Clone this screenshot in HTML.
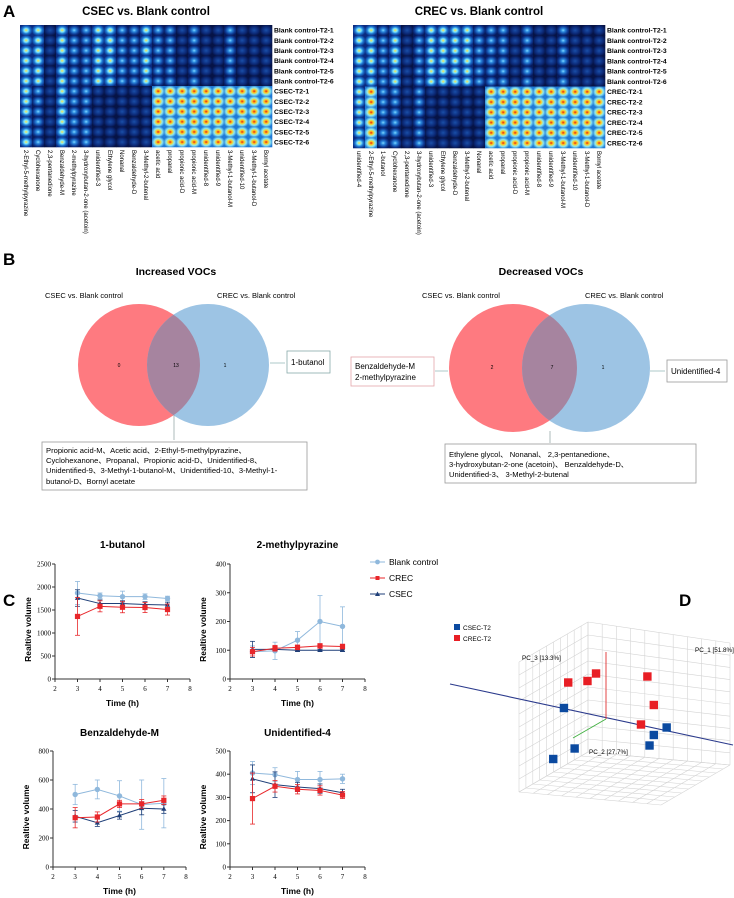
<!DOCTYPE html>
<html><head><meta charset="utf-8"><style>
html,body{margin:0;padding:0;background:#fff}
svg{display:block;font-family:"Liberation Sans",sans-serif}
</style></head><body>
<svg id="fig" width="734" height="898" viewBox="0 0 734 898" xmlns="http://www.w3.org/2000/svg">
<defs>
<radialGradient id="g0" cx="50%" cy="50%" r="55%"><stop offset="0" stop-color="#1a4fa8"/><stop offset="0.6" stop-color="#0c2a78"/><stop offset="1" stop-color="#061346"/></radialGradient>
<radialGradient id="g1" cx="50%" cy="50%" r="55%"><stop offset="0" stop-color="#7fd8ff"/><stop offset="0.3" stop-color="#2a86dc"/><stop offset="0.7" stop-color="#0e3a94"/><stop offset="1" stop-color="#071a5c"/></radialGradient>
<radialGradient id="g2" cx="50%" cy="50%" r="55%"><stop offset="0" stop-color="#ffe24a"/><stop offset="0.3" stop-color="#7ee8ff"/><stop offset="0.6" stop-color="#1e78d4"/><stop offset="1" stop-color="#0a2a80"/></radialGradient>
<radialGradient id="g3" cx="50%" cy="50%" r="55%"><stop offset="0" stop-color="#e82010"/><stop offset="0.3" stop-color="#ffd020"/><stop offset="0.6" stop-color="#8fe8f0"/><stop offset="1" stop-color="#1f7ad6"/></radialGradient>
<clipPath id="clipL"><circle cx="139" cy="365" r="61"/></clipPath>
<clipPath id="clipR"><circle cx="513" cy="368" r="64"/></clipPath>
</defs>

<!-- Panel A -->
<text x="3" y="17" font-size="17" font-weight="bold">A</text>
<text x="146" y="15" font-size="11.5" font-weight="bold" text-anchor="middle">CSEC vs. Blank control</text>
<text x="479" y="15" font-size="11.5" font-weight="bold" text-anchor="middle">CREC vs. Blank control</text>
<g id="hmL"></g>
<g id="hmR"></g>

<!-- Panel B -->
<text x="3" y="265" font-size="17" font-weight="bold">B</text>
<text x="176" y="275" font-size="10.5" font-weight="bold" text-anchor="middle">Increased VOCs</text>
<text x="541" y="275" font-size="10.5" font-weight="bold" text-anchor="middle">Decreased VOCs</text>
<g font-size="7.5">
<text x="45" y="298">CSEC vs. Blank control</text>
<text x="217" y="298">CREC vs. Blank control</text>
<circle cx="139" cy="365" r="61" fill="#fe7a80"/>
<circle cx="208" cy="365" r="61" fill="#9dc4e4"/>
<circle cx="208" cy="365" r="61" fill="#a6849f" clip-path="url(#clipL)"/>
<text x="119" y="367" font-size="5" text-anchor="middle">0</text>
<text x="176" y="367" font-size="5" text-anchor="middle">13</text>
<text x="225" y="367" font-size="5" text-anchor="middle">1</text>
<line x1="270" y1="363" x2="285" y2="363" stroke="#9bb" stroke-width="0.8"/>
<rect x="287" y="351" width="43" height="22" fill="#fff" stroke="#8aa" stroke-width="0.8"/>
<text x="291" y="365" font-size="8">1-butanol</text>
<line x1="174" y1="415" x2="174" y2="440" stroke="#9aa" stroke-width="0.8"/>
<rect x="42" y="442" width="265" height="48" fill="#fff" stroke="#999" stroke-width="0.8"/>
<g font-size="7.6" font-family="'Liberation Sans','Noto Sans CJK SC',sans-serif">
<text x="46" y="453">Propionic acid-M、Acetic acid、2-Ethyl-5-methylpyrazine、</text>
<text x="46" y="463">Cyclohexanone、Propanal、Propionic acid-D、Unidentified-8、</text>
<text x="46" y="473">Unidentified-9、3-Methyl-1-butanol-M、Unidentified-10、3-Methyl-1-</text>
<text x="46" y="484">butanol-D、Bornyl acetate</text>
</g>
</g>
<g font-size="7.5">
<text x="422" y="298">CSEC vs. Blank control</text>
<text x="585" y="298">CREC vs. Blank control</text>
<circle cx="513" cy="368" r="64" fill="#fe7a80"/>
<circle cx="586" cy="368" r="64" fill="#9dc4e4"/>
<circle cx="586" cy="368" r="64" fill="#a6849f" clip-path="url(#clipR)"/>
<text x="492" y="369" font-size="5" text-anchor="middle">2</text>
<text x="552" y="369" font-size="5" text-anchor="middle">7</text>
<text x="603" y="369" font-size="5" text-anchor="middle">1</text>
<line x1="448" y1="371" x2="435" y2="371" stroke="#9bb" stroke-width="0.8"/>
<rect x="351" y="357" width="83" height="29" fill="#fff" stroke="#e3a5aa" stroke-width="0.8"/>
<text x="355" y="369" font-size="8">Benzaldehyde-M</text>
<text x="355" y="380" font-size="8">2-methylpyrazine</text>
<line x1="650" y1="371" x2="665" y2="371" stroke="#9bb" stroke-width="0.8"/>
<rect x="667" y="360" width="60" height="22" fill="#fff" stroke="#999" stroke-width="0.8"/>
<text x="671" y="374" font-size="8">Unidentified-4</text>
<line x1="550" y1="431" x2="550" y2="443" stroke="#9aa" stroke-width="0.8"/>
<rect x="445" y="444" width="251" height="39" fill="#fff" stroke="#999" stroke-width="0.8"/>
<g font-size="7.6" font-family="'Liberation Sans','Noto Sans CJK SC',sans-serif">
<text x="449" y="457">Ethylene glycol、 Nonanal、 2,3-pentanedione、</text>
<text x="449" y="467">3-hydroxybutan-2-one (acetoin)、 Benzaldehyde-D、</text>
<text x="449" y="477">Unidentified-3、 3-Methyl-2-butenal</text>
</g>
</g>

<!-- Panel C -->
<text x="3" y="606" font-size="17" font-weight="bold">C</text>
<g id="charts"></g>
<g font-size="8.5">
<line x1="370" y1="562" x2="385" y2="562" stroke="#8fb8dc"/><circle cx="377.5" cy="562" r="2.4" fill="#8fb8dc"/>
<text x="389" y="565">Blank control</text>
<line x1="370" y1="578" x2="385" y2="578" stroke="#e8262a"/><rect x="375.5" y="576" width="4" height="4" fill="#e8262a"/>
<text x="389" y="581">CREC</text>
<line x1="370" y1="594" x2="385" y2="594" stroke="#1f3f78"/><path d="M377.5 591.5 L380 596 L375 596Z" fill="#1f3f78"/>
<text x="389" y="597">CSEC</text>
</g>

<!-- Panel D -->
<text x="679" y="606" font-size="17" font-weight="bold">D</text>
<g id="pca"></g>
</svg>
<script>
// ---------- Heatmap data ----------
const hmLeftCols = ["2-Ethyl-5-methylpyrazine","Cyclohexanone","2,3-pentanedione","Benzaldehyde-M","2-methylpyrazine","3-hydroxybutan-2-one (acetoin)","unidentified-3","Ethylene glycol","Nonanal","Benzaldehyde-D","3-Methyl-2-butenal","acetic acid","propanal","propionic acid-D","propionic acid-M","unidentified-8","unidentified-9","3-Methyl-1-butanol-M","unidentified-10","3-Methyl-1-butanol-D","Bornyl acetate"];
const hmLeftBlank = [2,2,0,2,1,1,2,2,1,1,2,1,1,0,1,0,0,1,0,0,0];
const hmLeftTreat = [2,1,0,2,1,1,0,0,0,0,0,3,3,3,3,3,3,3,3,3,3];
const hmLeftRows = ["Blank control-T2-1","Blank control-T2-2","Blank control-T2-3","Blank control-T2-4","Blank control-T2-5","Blank control-T2-6","CSEC-T2-1","CSEC-T2-2","CSEC-T2-3","CSEC-T2-4","CSEC-T2-5","CSEC-T2-6"];
const hmRightCols = ["unidentified-4","2-Ethyl-5-methylpyrazine","1-butanol","Cyclohexanone","2,3-pentanedione","3-hydroxybutan-2-one (acetoin)","unidentified-3","Ethylene glycol","Benzaldehyde-D","3-Methyl-2-butenal","Nonanal","acetic acid","propanal","propionic acid-D","propionic acid-M","unidentified-8","unidentified-9","3-Methyl-1-butanol-M","unidentified-10","3-Methyl-1-butanol-D","Bornyl acetate"];
const hmRightBlank = [2,2,1,2,0,1,2,2,2,2,1,1,1,0,1,0,0,1,0,0,0];
const hmRightTreat = [2,3,1,1,0,1,0,0,0,0,0,3,3,3,3,3,3,3,3,3,3];
const hmRightRows = ["Blank control-T2-1","Blank control-T2-2","Blank control-T2-3","Blank control-T2-4","Blank control-T2-5","Blank control-T2-6","CREC-T2-1","CREC-T2-2","CREC-T2-3","CREC-T2-4","CREC-T2-5","CREC-T2-6"];

// ---------- Line chart data ----------
const timeH = [3,4,5,6,7];
const butBlank=[1870,1810,1790,1790,1750], butBlankErr=[250,60,120,60,50];
const butCrec=[1360,1580,1560,1555,1510], butCrecErr=[410,120,120,110,120];
const butCsec=[1760,1640,1640,1620,1610], butCsecErr=[180,80,60,60,60];
const mpBlank=[95,98,135,200,183], mpBlankErr=[20,30,30,90,68];
const mpCrec=[95,107,110,115,113], mpCrecErr=[15,10,8,8,8];
const mpCsec=[103,103,100,100,100], mpCsecErr=[28,5,3,3,3];
const bzBlank=[500,535,490,430,440], bzBlankErr=[70,65,105,170,170];
const bzCrec=[340,345,435,435,460], bzCrecErr=[70,35,25,30,30];
const bzCsec=[350,305,355,405,400], bzCsecErr=[40,25,25,45,30];
const u4Blank=[405,398,377,377,380], u4BlankErr=[50,30,35,35,20];
const u4Crec=[295,348,335,330,310], u4CrecErr=[110,25,20,20,15];
const u4Csec=[380,355,345,338,320], u4CsecErr=[60,55,20,20,15];
const butTicks=[0,500,1000,1500,2000,2500];
const mpTicks=[0,100,200,300,400];
const bzTicks=[0,200,400,600,800];
const u4Ticks=[0,100,200,300,400,500];
const xTicks=[2,3,4,5,6,7,8];

// ---------- PCA data (projected coordinates, scene units 0..10) ----------
const pcaCsecX=[2.1,1.6,2.6,6.1,6.3,6.9];
const pcaCsecY=[5.6,2.2,2.9,3.1,3.8,4.3];
const pcaCrecX=[2.3,3.2,3.6,6.0,6.3,5.7];
const pcaCrecY=[7.3,7.4,7.9,7.7,5.8,4.5];

const NS="http://www.w3.org/2000/svg";
function mk(tag,attrs,parent){const e=document.createElementNS(NS,tag);for(const k in attrs)e.setAttribute(k,attrs[k]);parent.appendChild(e);return e;}

function heatmap(g,x0,x1,y0,y1,cols,blank,treat,rows){
  const cw=(x1-x0)/cols.length, rh=(y1-y0)/rows.length;
  mk('rect',{x:x0,y:y0,width:x1-x0,height:y1-y0,fill:'#061346'},g);
  cols.forEach((c,i)=>{
    rows.forEach((r,j)=>{
      const lv = j<6?blank[i]:treat[i];
      const cell=mk('rect',{x:x0+i*cw,y:y0+j*rh,width:cw+0.3,height:rh+0.3,fill:'url(#g'+lv+')'},g);
      
      
    });
    const t=mk('text',{x:0,y:0,'font-size':6,transform:`translate(${x0+i*cw+cw/2-2},${y1+3}) rotate(90)`},g);
    
    
    t.textContent=c;
  });
  rows.forEach((r,j)=>{
    const t=mk('text',{x:x1+2,y:y0+j*rh+rh/2+2.5,'font-size':6.8,'font-weight':'bold'},g);
    
    
    t.textContent=r;
  });
}
heatmap(document.getElementById('hmL'),20,272,25,147,hmLeftCols,hmLeftBlank,hmLeftTreat,hmLeftRows);
heatmap(document.getElementById('hmR'),353,605,25,148,hmRightCols,hmRightBlank,hmRightTreat,hmRightRows);

function chart(g,title,ax,ay0,ay1,xr,ticks,series,titleY){
  const ymax=ticks[ticks.length-1];
  const sx=v=>ax+(v-2)/6*(xr-ax);
  const sy=v=>ay0-(v/ymax)*(ay0-ay1);
  const tt=mk('text',{x:(ax+xr)/2,y:titleY,'font-size':10,'font-weight':'bold','text-anchor':'middle'},g);
  tt.textContent=title;
  mk('line',{x1:ax,y1:ay1,x2:ax,y2:ay0,stroke:'#333','stroke-width':1},g);
  mk('line',{x1:ax,y1:ay0,x2:xr,y2:ay0,stroke:'#333','stroke-width':1},g);
  ticks.forEach(v=>{mk('line',{x1:ax-3,y1:sy(v),x2:ax,y2:sy(v),stroke:'#333'},g);
    const t=mk('text',{x:ax-4,y:sy(v)+2.5,'font-size':7,'text-anchor':'end','font-family':'Liberation Serif'},g);
    t.textContent=v;});
  xTicks.forEach(v=>{mk('line',{x1:sx(v),y1:ay0,x2:sx(v),y2:ay0+3,stroke:'#333'},g);
    const t=mk('text',{x:sx(v),y:ay0+12,'font-size':7,'text-anchor':'middle','font-family':'Liberation Serif'},g);
    t.textContent=v;});
  const xt=mk('text',{x:(ax+xr)/2,y:ay0+27,'font-size':8.5,'font-weight':'bold','text-anchor':'middle'},g);
  xt.textContent='Time (h)';
  const yt=mk('text',{x:0,y:0,'font-size':8.5,'font-weight':'bold','text-anchor':'middle',transform:`translate(${ax-24},${(ay0+ay1)/2+8}) rotate(-90)`},g);
  yt.textContent='Realtive volume';
  series.forEach(s=>{
    const sg=mk('g',{},g);
    
    s.v.forEach((v,i)=>{const x=sx(timeH[i]);
      mk('line',{x1:x,y1:sy(v-s.e[i]),x2:x,y2:sy(v+s.e[i]),stroke:s.c,'stroke-width':0.8},sg);
      mk('line',{x1:x-2.5,y1:sy(v+s.e[i]),x2:x+2.5,y2:sy(v+s.e[i]),stroke:s.c,'stroke-width':0.8},sg);
      mk('line',{x1:x-2.5,y1:sy(v-s.e[i]),x2:x+2.5,y2:sy(v-s.e[i]),stroke:s.c,'stroke-width':0.8},sg);});
    mk('polyline',{points:s.v.map((v,i)=>sx(timeH[i])+','+sy(v)).join(' '),fill:'none',stroke:s.c,'stroke-width':1},sg);
    s.v.forEach((v,i)=>{const x=sx(timeH[i]),y=sy(v);let m;
      if(s.m==='c')m=mk('circle',{cx:x,cy:y,r:2.7,fill:s.c},sg);
      else if(s.m==='s')m=mk('rect',{x:x-2.6,y:y-2.6,width:5.2,height:5.2,fill:s.c},sg);
      else m=mk('path',{d:`M${x} ${y-2.8}L${x+2.6} ${y+1.8}L${x-2.6} ${y+1.8}Z`,fill:s.c},sg);
      });
  });
}
const CB='#8fb8dc',CR='#e8262a',CS='#1f3f78';
const ch=document.getElementById('charts');
function sub(n){const g=mk('g',{},ch);return g;}
chart(sub('chart-1-butanol'),'1-butanol',55,679,564,190,butTicks,[
 {name:'blank',v:butBlank,e:butBlankErr,c:CB,m:'c'},{name:'csec',v:butCsec,e:butCsecErr,c:CS,m:'t'},{name:'crec',v:butCrec,e:butCrecErr,c:CR,m:'s'}],548);
chart(sub('chart-2-methylpyrazine'),'2-methylpyrazine',230,679,564,365,mpTicks,[
 {name:'blank',v:mpBlank,e:mpBlankErr,c:CB,m:'c'},{name:'csec',v:mpCsec,e:mpCsecErr,c:CS,m:'t'},{name:'crec',v:mpCrec,e:mpCrecErr,c:CR,m:'s'}],548);
chart(sub('chart-benzaldehyde-m'),'Benzaldehyde-M',53,867,751,186,bzTicks,[
 {name:'blank',v:bzBlank,e:bzBlankErr,c:CB,m:'c'},{name:'csec',v:bzCsec,e:bzCsecErr,c:CS,m:'t'},{name:'crec',v:bzCrec,e:bzCrecErr,c:CR,m:'s'}],736);
chart(sub('chart-unidentified-4'),'Unidentified-4',230,867,751,365,u4Ticks,[
 {name:'blank',v:u4Blank,e:u4BlankErr,c:CB,m:'c'},{name:'csec',v:u4Csec,e:u4CsecErr,c:CS,m:'t'},{name:'crec',v:u4Crec,e:u4CrecErr,c:CR,m:'s'}],736);

// PCA cube
(function(){
  const g=document.getElementById('pca');
  const O=[588,752],L=[519,792],R=[730,765],T=[588,622];
  const TL=[519,662],TR=[730,643],F=[661,805];
  const lerp=(a,b,t)=>[a[0]+(b[0]-a[0])*t,a[1]+(b[1]-a[1])*t];
  function face(a,b,c,d){
    for(let i=0;i<=10;i++){const t=i/10;
      let p=lerp(a,b,t),q=lerp(d,c,t);mk('line',{x1:p[0],y1:p[1],x2:q[0],y2:q[1],stroke:'#d4d4d4','stroke-width':0.6},g);
      p=lerp(a,d,t);q=lerp(b,c,t);mk('line',{x1:p[0],y1:p[1],x2:q[0],y2:q[1],stroke:'#d4d4d4','stroke-width':0.6},g);}
  }
  face(O,L,TL,T); face(O,R,TR,T); face(O,L,F,R);
  mk('line',{x1:450,y1:684,x2:733,y2:745,stroke:'#2b3a8c','stroke-width':1.1},g);
  mk('line',{x1:606,y1:652,x2:606,y2:719,stroke:'#e03030','stroke-width':0.9},g);
  mk('line',{x1:606,y1:719,x2:573,y2:738,stroke:'#40b040','stroke-width':0.9},g);
  const lab=[['PC_1 [51.8%]',695,652],['PC_3 [13.3%]',522,660],['PC_2 [27.7%]',589,754]];
  lab.forEach(l=>{const t=mk('text',{x:l[1],y:l[2],'font-size':6.3},g);t.textContent=l[0];});
  const px=v=>519+v*(214/10), py=v=>792-v*(150/10);
  function pts(xs,ys,c,n){xs.forEach((x,i)=>{const r=mk('rect',{x:px(x)-4.2,y:py(ys[i])-4.2,width:8.4,height:8.4,fill:c},g);
    });}
  pts(pcaCsecX,pcaCsecY,'#0b4aa0','pca-point-csec');
  pts(pcaCrecX,pcaCrecY,'#e81e24','pca-point-crec');
  mk('rect',{x:454,y:624,width:6,height:6,fill:'#0b4aa0'},g);
  let t=mk('text',{x:463,y:630,'font-size':6.5},g);t.textContent='CSEC-T2';
  mk('rect',{x:454,y:635,width:6,height:6,fill:'#e81e24'},g);
  t=mk('text',{x:463,y:641,'font-size':6.5},g);t.textContent='CREC-T2';
})();
</script>
</body></html>
